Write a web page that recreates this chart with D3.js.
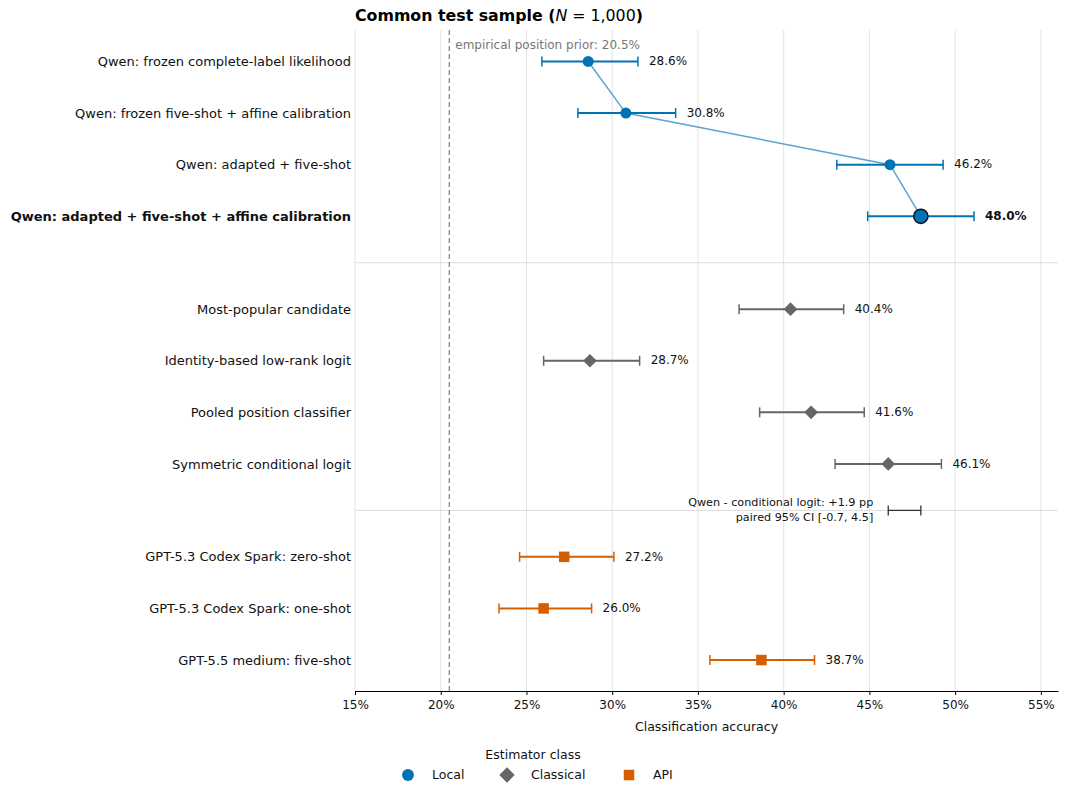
<!DOCTYPE html>
<html>
<head>
<meta charset="utf-8">
<script src="https://cdn.jsdelivr.net/npm/d3@7"></script>
<style>
  body { margin: 0; background: #fff; }
  svg { font-family: "DejaVu Sans", sans-serif; }
</style>
</head>
<body>
<div id="chart"></div>
<script>
// estimator rows, top to bottom
const labels = [
  "Qwen: frozen complete-label likelihood",
  "Qwen: frozen five-shot + affine calibration",
  "Qwen: adapted + five-shot",
  "Qwen: adapted + five-shot + affine calibration",
  "Most-popular candidate",
  "Identity-based low-rank logit",
  "Pooled position classifier",
  "Symmetric conditional logit",
  "GPT-5.3 Codex Spark: zero-shot",
  "GPT-5.3 Codex Spark: one-shot",
  "GPT-5.5 medium: five-shot"
];
const groups = ["Local", "Local", "Local", "Local",
  "Classical", "Classical", "Classical", "Classical",
  "API", "API", "API"];
const rowPos = [0, 1, 2, 3, 4.8, 5.8, 6.8, 7.8, 9.6, 10.6, 11.6];
const accuracy = [28.6, 30.8, 46.2, 48.0, 40.4, 28.7, 41.6, 46.1, 27.2, 26.0, 38.7];
const ciLow = [25.9, 28.0, 43.1, 44.9, 37.4, 26.0, 38.6, 43.0, 24.6, 23.4, 35.7];
const ciHigh = [31.5, 33.7, 49.3, 51.1, 43.5, 31.6, 44.7, 49.2, 30.1, 28.8, 41.8];
const highlight = 3;
const separators = [3.9, 8.7];
const priorValue = 20.5;
const xTicks = [15, 20, 25, 30, 35, 40, 45, 50, 55];
const diffRow = 8.7;
const diffRange = [46.1, 48.0];
const diffText = ["Qwen - conditional logit: +1.9 pp", "paired 95% CI [-0.7, 4.5]"];
const legendKeys = ["Local", "Classical", "API"];

const colors = { Local: "#0173b2", Classical: "#666666", API: "#d55e00" };

const W = 1067, H = 795;
const margin = { top: 30, right: 9, bottom: 104, left: 355 };

const svg = d3.select("#chart").append("svg")
  .attr("width", W).attr("height", H);

const x = d3.scaleLinear().domain([15, 56]).range([margin.left, W - margin.right]);
const y = d3.scaleLinear().domain([-0.61, 12.2]).range([margin.top, H - margin.bottom]);

// grid
svg.append("g").selectAll("line").data(xTicks).join("line")
  .attr("x1", d => x(d)).attr("x2", d => x(d))
  .attr("y1", margin.top).attr("y2", H - margin.bottom)
  .attr("stroke", "#e3e3e3").attr("stroke-width", 1);

svg.append("g").selectAll("line").data(separators).join("line")
  .attr("x1", margin.left).attr("x2", W - margin.right)
  .attr("y1", d => y(d)).attr("y2", d => y(d))
  .attr("stroke", "#dddddd").attr("stroke-width", 1);

// prior line
svg.append("line")
  .attr("x1", x(priorValue)).attr("x2", x(priorValue))
  .attr("y1", margin.top).attr("y2", H - margin.bottom)
  .attr("stroke", "#999").attr("stroke-width", 1.5)
  .attr("stroke-dasharray", "5,3");
svg.append("text")
  .attr("x", x(priorValue) + 6).attr("y", 49)
  .attr("font-size", 12).attr("fill", "#777")
  .text("empirical position prior: " + priorValue.toFixed(1) + "%");

// x axis
const xAxis = svg.append("g")
  .attr("transform", `translate(0,${H - margin.bottom})`)
  .call(d3.axisBottom(x).tickValues(xTicks).tickFormat(d => d + "%").tickSize(4).tickSizeOuter(0));
xAxis.select(".domain").attr("stroke", "#000");
xAxis.selectAll(".tick line").attr("stroke", "#000");
xAxis.selectAll("text").attr("font-size", 12).attr("fill", "#111")
  .attr("font-family", "DejaVu Sans, sans-serif").attr("dy", "0.9em");

svg.append("text")
  .attr("x", (x(15) + x(56)) / 2).attr("y", 731)
  .attr("text-anchor", "middle").attr("font-size", 12.5).attr("fill", "#111")
  .text("Classification accuracy");

// y labels
svg.append("g").selectAll("text").data(labels).join("text")
  .attr("x", margin.left - 4)
  .attr("y", (d, i) => y(rowPos[i]))
  .attr("dy", "0.35em")
  .attr("text-anchor", "end")
  .attr("font-size", 13)
  .attr("font-weight", (d, i) => i === highlight ? "bold" : "normal")
  .attr("fill", "#111")
  .text(d => d);

// connecting line across Qwen rows
const localIdx = d3.range(labels.length).filter(i => groups[i] === "Local");
svg.append("path")
  .datum(localIdx)
  .attr("fill", "none").attr("stroke", "#5aa5d2").attr("stroke-width", 1.5)
  .attr("d", d3.line().x(i => x(accuracy[i])).y(i => y(rowPos[i])));

// error bars
const rows = d3.range(labels.length);
const eb = svg.append("g").selectAll("g").data(rows).join("g")
  .attr("stroke", i => colors[groups[i]]).attr("stroke-width", 2);
eb.append("line")
  .attr("x1", i => x(ciLow[i])).attr("x2", i => x(ciHigh[i]))
  .attr("y1", i => y(rowPos[i])).attr("y2", i => y(rowPos[i]));
eb.append("line")
  .attr("x1", i => x(ciLow[i])).attr("x2", i => x(ciLow[i]))
  .attr("y1", i => y(rowPos[i]) - 5).attr("y2", i => y(rowPos[i]) + 5).attr("stroke-width", 1.5);
eb.append("line")
  .attr("x1", i => x(ciHigh[i])).attr("x2", i => x(ciHigh[i]))
  .attr("y1", i => y(rowPos[i]) - 5).attr("y2", i => y(rowPos[i]) + 5).attr("stroke-width", 1.5);

// markers
const symbolFor = { Local: d3.symbolCircle, Classical: d3.symbolDiamond2, API: d3.symbolSquare };
const sizeFor = { Local: 95, Classical: 120, API: 110 };
svg.append("g").selectAll("path").data(rows).join("path")
  .attr("transform", i => `translate(${x(accuracy[i])},${y(rowPos[i])})`)
  .attr("d", i => d3.symbol(symbolFor[groups[i]], i === highlight ? 160 : sizeFor[groups[i]])())
  .attr("fill", i => colors[groups[i]])
  .attr("stroke", i => i === highlight ? "#111" : "none")
  .attr("stroke-width", 1.5);

// value labels
svg.append("g").selectAll("text").data(rows).join("text")
  .attr("x", i => x(ciHigh[i]) + 11)
  .attr("y", i => y(rowPos[i]) - 0.5)
  .attr("dy", "0.35em")
  .attr("font-size", 12)
  .attr("font-weight", i => i === highlight ? "bold" : "normal")
  .attr("fill", "#111")
  .text(i => accuracy[i].toFixed(1) + "%");

// paired difference annotation
const dy = y(diffRow);
svg.append("line")
  .attr("x1", x(diffRange[0])).attr("x2", x(diffRange[1]))
  .attr("y1", dy).attr("y2", dy).attr("stroke", "#333").attr("stroke-width", 1.3);
diffRange.forEach(v => {
  svg.append("line")
    .attr("x1", x(v)).attr("x2", x(v))
    .attr("y1", dy - 5).attr("y2", dy + 5).attr("stroke", "#333").attr("stroke-width", 1.3);
});
svg.append("g").selectAll("text").data(diffText).join("text")
  .attr("x", x(diffRange[0]) - 15)
  .attr("y", (d, i) => dy - 4 + i * 14.5)
  .attr("text-anchor", "end")
  .attr("font-size", 11.2).attr("fill", "#111")
  .text(d => d);

// title
const title = svg.append("text")
  .attr("x", margin.left).attr("y", 21)
  .attr("font-size", 15.8).attr("font-weight", "bold").attr("fill", "#000");
title.append("tspan").text("Common test sample (");
title.append("tspan").attr("font-style", "italic").attr("font-weight", "normal").text("N");
title.append("tspan").attr("font-weight", "normal").text(" = 1,000");
title.append("tspan").text(")");

// legend
svg.append("text")
  .attr("x", 533).attr("y", 759)
  .attr("text-anchor", "middle").attr("font-size", 12.5).attr("fill", "#111")
  .text("Estimator class");
const legendX = [408, 507, 629];
const lg = svg.append("g").selectAll("g").data(legendKeys).join("g")
  .attr("transform", (d, i) => `translate(${legendX[i]},775)`);
lg.append("path")
  .attr("d", d => d3.symbol(symbolFor[d], d === "Classical" ? 150 : 110)())
  .attr("fill", d => colors[d]);
lg.append("text")
  .attr("x", 24).attr("dy", "0.35em")
  .attr("font-size", 12.5).attr("fill", "#111")
  .text(d => d);
</script>
</body>
</html>
